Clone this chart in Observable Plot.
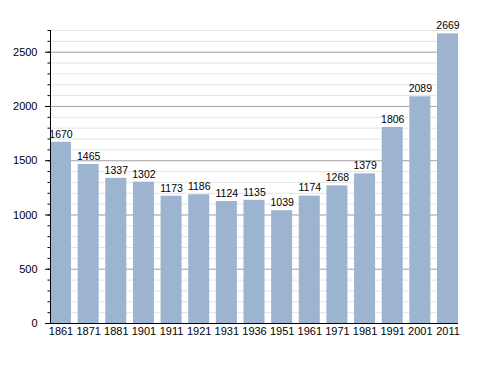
<!DOCTYPE html>
<html><head><meta charset="utf-8">
<script src="https://cdn.jsdelivr.net/npm/d3@7"></script>
<script src="https://cdn.jsdelivr.net/npm/@observablehq/plot@0.6"></script>
<style>body{margin:0;background:#fff}</style>
</head><body><div id="chart"></div>
<script>
const years = ["1861","1871","1881","1901","1911","1921","1931","1936","1951","1961","1971","1981","1991","2001","2011"];
const population = [1670,1465,1337,1302,1173,1186,1124,1135,1039,1174,1268,1379,1806,2089,2669];
const majorTicks = [0,500,1000,1500,2000,2500];
const minorTicks = d3.range(0, 2701, 100);

const data = years.map((y, i) => ({year: y, value: population[i]}));

const chart = Plot.plot({
  width: 488,
  height: 373,
  marginLeft: 50,
  marginRight: 30,
  marginTop: 30,
  marginBottom: 50,
  style: {fontFamily: "'Liberation Sans', Arial, sans-serif", fontSize: "11px", color: "#000", background: "#fff"},
  x: {type: "band", domain: years, paddingInner: 0.24, paddingOuter: 0, round: false, label: null},
  y: {domain: [0, 2700], label: null},
  marks: [
    Plot.ruleY(minorTicks, {stroke: "#e4e4e4", strokeWidth: 1}),
    Plot.ruleY(majorTicks, {stroke: "#a8a8a8", strokeWidth: 1}),
    Plot.barY(data, {x: "year", y: "value", fill: "#9cb4d0"}),
    Plot.text(data, {x: "year", y: "value", text: d => String(d.value), dy: -8, fontSize: 10.5, fill: "#000"}),
    Plot.axisY(minorTicks, {tickSize: 2.5, tickFormat: () => "", stroke: "#000"}),
    Plot.axisY(majorTicks, {tickSize: 5, tickPadding: 8, fontSize: 11, stroke: "#000", tickFormat: d => String(d)}),
    Plot.axisX({tickSize: 0, tickPadding: 4, fontSize: 11}),
    Plot.frame({anchor: "left", stroke: "#000"}),
    Plot.ruleY([0], {stroke: "#000"})
  ]
});
document.getElementById("chart").append(chart);
</script>
</body></html>
